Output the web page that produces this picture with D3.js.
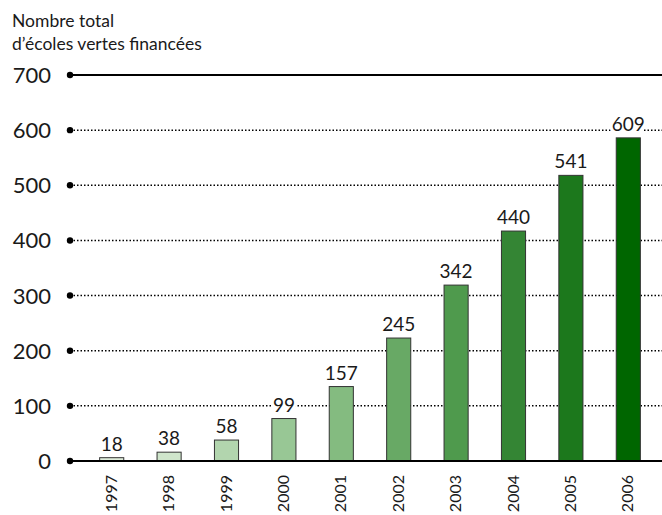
<!DOCTYPE html>
<html>
<head>
<meta charset="utf-8">
<script src="https://cdn.jsdelivr.net/npm/d3@7"></script>
<style>
	body { margin: 0; background: #fff; }
	svg text { font-family: Lato, "Open Sans", sans-serif; font-weight: 400; fill: #1a1a1a; }
</style>
</head>
<body>
<div id="chart"></div>
<script>
const width = 662;
const height = 515;

const years = ['1997', '1998', '1999', '2000', '2001', '2002', '2003', '2004', '2005', '2006'];
// printed labels
const labelValues = [18, 38, 58, 99, 157, 245, 342, 440, 541, 609];
// bar heights as drawn in the picture (they sit a little below the labels)
const barValues = [6, 16, 38, 77, 135, 223, 319, 417, 518, 586];
const barColors = ['#e0eedc', '#cfe5cb', '#b2d5ae', '#98c795', '#84bb80', '#68a965', '#4f9a4d', '#348534', '#1c781c', '#006600'];
const yTicks = [0, 100, 200, 300, 400, 500, 600, 700];

const svg = d3.select('#chart')
	.append('svg')
	.attr('width', width)
	.attr('height', height);

const x = d3.scaleBand()
	.domain(years)
	.range([83, 657])
	.paddingInner(0.58)
	.paddingOuter(0.29);

const y = d3.scaleLinear()
	.domain([0, 700])
	.range([461, 75]);

// title
svg.append('text')
	.attr('x', 12).attr('y', 27)
	.style('font-size', '17.5px')
	.text('Nombre total');
svg.append('text')
	.attr('x', 12).attr('y', 50)
	.style('font-size', '17.5px')
	.text('d’écoles vertes financées');

// gridlines
const grid = svg.append('g');
grid.selectAll('line')
	.data(yTicks)
	.enter()
	.append('line')
	.attr('x1', 70)
	.attr('x2', width)
	.attr('y1', d => y(d))
	.attr('y2', d => y(d))
	.attr('stroke', '#000')
	.attr('stroke-width', d => (d == 0 || d == 700) ? 2 : 1.5)
	.attr('stroke-dasharray', d => (d == 0 || d == 700) ? null : '1.5,2');

grid.selectAll('circle')
	.data(yTicks)
	.enter()
	.append('circle')
	.attr('cx', 70)
	.attr('cy', d => y(d))
	.attr('r', 3.2)
	.attr('fill', '#000');

grid.selectAll('text')
	.data(yTicks)
	.enter()
	.append('text')
	.attr('x', 51)
	.attr('y', d => y(d) + 8)
	.attr('text-anchor', 'end')
	.style('font-size', '22px')
	.text(d => d);

// bars
svg.append('g')
	.selectAll('rect')
	.data(years)
	.enter()
	.append('rect')
	.attr('x', d => x(d))
	.attr('width', x.bandwidth())
	.attr('y', (d, i) => y(barValues[i]))
	.attr('height', (d, i) => y(0) - y(barValues[i]))
	.attr('fill', (d, i) => barColors[i])
	.attr('stroke', '#333')
	.attr('stroke-width', 1);

// redraw zero line over bar bottoms
svg.append('line')
	.attr('x1', 70).attr('x2', width)
	.attr('y1', y(0)).attr('y2', y(0))
	.attr('stroke', '#000')
	.attr('stroke-width', 2);

// value labels, with a white halo that cuts the dotted lines
const labels = svg.append('g');
labels.selectAll('text.halo')
	.data(years)
	.enter()
	.append('text')
	.attr('class', 'halo')
	.attr('x', d => x(d) + x.bandwidth() / 2)
	.attr('y', (d, i) => y(barValues[i]) - 7)
	.attr('text-anchor', 'middle')
	.style('font-size', '19px')
	.style('fill', '#fff')
	.style('stroke', '#fff')
	.style('stroke-width', 6)
	.text((d, i) => labelValues[i]);

labels.selectAll('text.val')
	.data(years)
	.enter()
	.append('text')
	.attr('class', 'val')
	.attr('x', d => x(d) + x.bandwidth() / 2)
	.attr('y', (d, i) => y(barValues[i]) - 7)
	.attr('text-anchor', 'middle')
	.style('font-size', '19px')
	.text((d, i) => labelValues[i]);

// year labels
svg.append('g')
	.selectAll('text')
	.data(years)
	.enter()
	.append('text')
	.attr('transform', d => 'translate(' + (x(d) + x.bandwidth() / 2 + 5) + ',475) rotate(-90)')
	.attr('text-anchor', 'end')
	.style('font-size', '16px')
	.text(d => d);
</script>
</body>
</html>
